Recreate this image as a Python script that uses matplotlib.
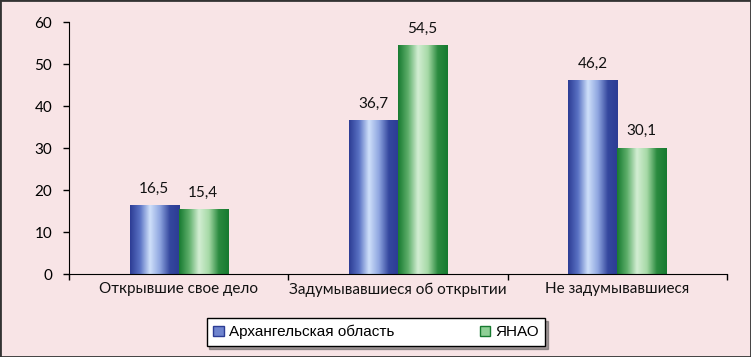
import numpy as np
import matplotlib
matplotlib.use("Agg")
import matplotlib.pyplot as plt
from matplotlib.patches import Rectangle, Patch
from matplotlib.colors import LinearSegmentedColormap

categories = ["Открывшие свое дело", "Задумывавшиеся об открытии", "Не задумывавшиеся"]
series_names = ["Архангельская область", "ЯНАО"]
arkh = [16.5, 36.7, 46.2]
yanao = [15.4, 54.5, 30.1]
value_labels_arkh = ["16,5", "36,7", "46,2"]
value_labels_yanao = ["15,4", "54,5", "30,1"]

bg = "#F8E4E6"
fig = plt.figure(figsize=(7.51, 3.57), dpi=100, facecolor=bg)
ax = fig.add_axes([69/751, 1-274/357, (727-69)/751, (274-22)/357])
ax.set_facecolor(bg)

x = np.arange(len(categories))
w = 0.224
b1 = ax.bar(x - w/2, arkh, w, color="#3A4FA8", zorder=2)
b2 = ax.bar(x + w/2, yanao, w, color="#1E7A35", zorder=2)

blue_cmap = LinearSegmentedColormap.from_list("b", ["#2C3C94", "#5A72C4", "#CFE0FA", "#8FA6E0", "#34479E", "#2C3C94"])
green_cmap = LinearSegmentedColormap.from_list("g", ["#177A30", "#5DAE6A", "#D3EED3", "#A6D9A6", "#2A8A3F", "#177A30"])
grad = np.linspace(0, 1, 256).reshape(1, -1)
for bars, cm in ((b1, blue_cmap), (b2, green_cmap)):
    for p in bars:
        x0, y0 = p.get_x(), p.get_y()
        im = ax.imshow(grad, cmap=cm, aspect="auto", zorder=2.5,
                       extent=(x0, x0 + p.get_width(), y0, y0 + p.get_height()),
                       interpolation="bilinear")
        im.set_clip_path(p)

tf = dict(family=["Lato", "DejaVu Sans"], fontsize=11, color="#111111")
for p, lab in zip(b1, value_labels_arkh):
    ax.text(p.get_x() + p.get_width()/2, p.get_height() + 2.2, lab, ha="center", va="bottom", **tf)
for p, lab in zip(b2, value_labels_yanao):
    ax.text(p.get_x() + p.get_width()/2, p.get_height() + 2.2, lab, ha="center", va="bottom", **tf)

ax.set_xlim(-0.5, 2.5)
ax.set_ylim(0, 60)
ax.set_yticks(range(0, 61, 10))
ax.set_xticks(x)
ax.set_xticklabels(categories, **tf)
for lab in ax.get_yticklabels():
    lab.set_fontfamily(["Lato", "DejaVu Sans"])
    lab.set_fontsize(11)
ax.set_xticks([-0.5, 0.5, 1.5, 2.5], minor=True)
ax.tick_params(axis="x", which="major", length=0, pad=6)
ax.tick_params(axis="x", which="minor", length=4, direction="out", width=1)
ax.tick_params(axis="y", length=4, width=1, pad=8, labelsize=11)
for s in ("top", "right"):
    ax.spines[s].set_visible(False)
ax.spines["left"].set_color("black")
ax.spines["bottom"].set_color("black")

handles = [Patch(facecolor="#6F84CE", edgecolor="#2C3C94"), Patch(facecolor="#8ECF95", edgecolor="#177A30")]
leg = fig.legend(handles, series_names, loc="center", bbox_to_anchor=(376/751, 1-332/357),
                 ncol=2, frameon=True, fancybox=False, shadow=True, handlelength=0.7, handleheight=0.7,
                 handletextpad=0.3, columnspacing=5.6, borderpad=0.45, borderaxespad=0,
                 prop=dict(family="Liberation Sans", size=11))
leg.get_frame().set_edgecolor("black")
leg.get_frame().set_facecolor("white")
leg.get_frame().set_linewidth(1.0)

fig.patches.append(Rectangle((0, 0), 1, 1, transform=fig.transFigure, fill=False,
                             edgecolor="#333333", linewidth=2))

fig.savefig("out.png", dpi=100, facecolor=bg)
